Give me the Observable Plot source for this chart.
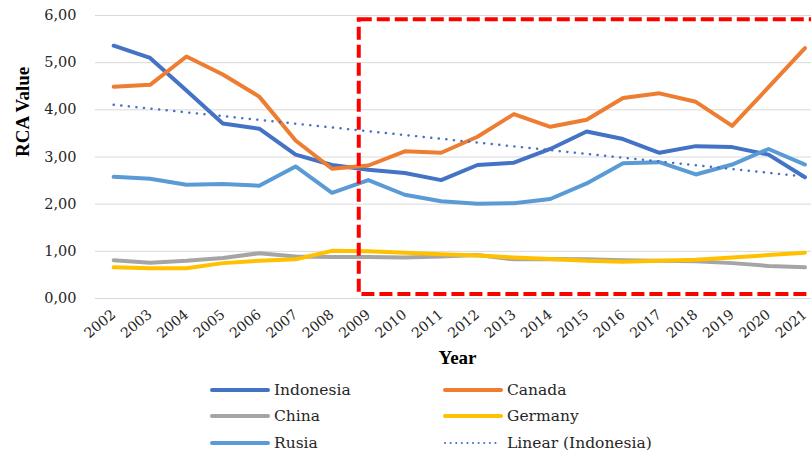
<!DOCTYPE html>
<html><head><meta charset="utf-8">
<script src="https://cdn.jsdelivr.net/npm/d3@7"></script>
<script src="https://cdn.jsdelivr.net/npm/@observablehq/plot@0.6"></script>
</head><body style="margin:0;background:#fff;font-family:'DejaVu Serif'">
<div id="chart"></div><div id="legend" style="position:relative;width:811px;height:82px;font-family:'DejaVu Serif'"></div>
<script>
const years = [2002,2003,2004,2005,2006,2007,2008,2009,2010,2011,2012,2013,2014,2015,2016,2017,2018,2019,2020,2021];
const indonesia = [5.36,5.10,4.41,3.71,3.60,3.05,2.83,2.73,2.66,2.51,2.83,2.88,3.17,3.54,3.38,3.09,3.23,3.21,3.05,2.57];
const canada    = [4.49,4.53,5.13,4.75,4.28,3.35,2.75,2.82,3.12,3.09,3.43,3.91,3.64,3.79,4.25,4.35,4.17,3.66,4.48,5.31];
const china     = [0.81,0.76,0.80,0.86,0.96,0.89,0.88,0.88,0.87,0.89,0.92,0.83,0.84,0.83,0.81,0.80,0.79,0.75,0.69,0.66];
const germany   = [0.66,0.64,0.64,0.75,0.80,0.83,1.01,1.00,0.97,0.94,0.91,0.87,0.84,0.80,0.78,0.80,0.82,0.87,0.92,0.97];
const rusia     = [2.58,2.54,2.41,2.43,2.39,2.80,2.24,2.51,2.20,2.06,2.01,2.02,2.11,2.44,2.87,2.89,2.63,2.84,3.17,2.84];
const yTicks = [0,1,2,3,4,5,6];
const highlight = [{x1:2008.75, x2:2023, y1:0.085, y2:5.91}];

const FONT = "DejaVu Serif";
const BOLDFONT = "Liberation Serif";
const seriesDefs = [
  {name:"Indonesia", values:indonesia, color:"#4472C4"},
  {name:"Canada", values:canada, color:"#ED7D31"},
  {name:"China", values:china, color:"#A5A5A5"},
  {name:"Germany", values:germany, color:"#FFC000"},
  {name:"Rusia", values:rusia, color:"#5B9BD5"}
];
const toRows = s => years.map((y,i)=>({year:y, value:s.values[i]}));

const marks = [
  Plot.gridY(yTicks, {stroke:"#d9d9d9", strokeOpacity:1, strokeWidth:1}),
  Plot.axisY(yTicks, {tickSize:0, tickPadding:19, fontSize:14.5, fontFamily:FONT, tickFormat:d=>d.toFixed(2).replace(".",","), label:null}),
  Plot.axisX(years, {tickSize:0, tickPadding:14, tickRotate:-40, fontSize:14, fontFamily:FONT, tickFormat:d=>String(d), label:null, dx:0}),
  ...seriesDefs.map(s => Plot.line(toRows(s), {x:"year", y:"value", stroke:s.color, strokeWidth:4, strokeLinejoin:"round", strokeLinecap:"round"})),
  Plot.linearRegressionY(toRows(seriesDefs[0]), {x:"year", y:"value", stroke:"#4472C4", strokeWidth:2.5, strokeDasharray:"0.1,7.5", strokeLinecap:"round", ci:0}),
  Plot.rect(highlight, {x1:"x1", x2:"x2", y1:"y1", y2:"y2", fill:"none", stroke:"#FF0000", strokeWidth:4, strokeDasharray:"13,5", clip:"frame"}),
  Plot.text(["RCA Value"], {frameAnchor:"left", dx:-73, rotate:-90, fontWeight:"bold", fontSize:19, fontFamily:BOLDFONT, fill:"#000"}),
  Plot.text(["Year"], {frameAnchor:"bottom", dy:65, dx:4, fontWeight:"bold", fontSize:19, fontFamily:BOLDFONT, fill:"#000"})
];

const chart = Plot.plot({
  width:811, height:372,
  marginLeft:95, marginRight:0, marginTop:15, marginBottom:74,
  style:{fontFamily:FONT, color:"#262626", background:"#fff", overflow:"visible"},
  x:{type:"linear", domain:[2001.5, 2021.18]},
  y:{domain:[0,6]},
  marks
});
document.getElementById("chart").appendChild(chart);

const legendItems = [
  {name:"Indonesia", color:"#4472C4", col:0, row:0},
  {name:"Canada", color:"#ED7D31", col:1, row:0},
  {name:"China", color:"#A5A5A5", col:0, row:1},
  {name:"Germany", color:"#FFC000", col:1, row:1},
  {name:"Rusia", color:"#5B9BD5", col:0, row:2},
  {name:"Linear (Indonesia)", color:"#4472C4", col:1, row:2, dotted:true}
];
const colX = [210, 443], rowY = [18, 44, 71];
const leg = document.getElementById("legend");
legendItems.forEach(it=>{
  const d = document.createElement("div");
  d.setAttribute("style", `position:absolute;display:flex;align-items:center;font-size:15.5px;color:#262626;height:22px;transform:translateY(-50%);left:${colX[it.col]}px;top:${rowY[it.row]}px;font-family:'DejaVu Serif'`);
  const dash = it.dotted ? `stroke-width="2" stroke-dasharray="0.1,5.5"` : `stroke-width="4"`;
  d.innerHTML = `<svg width="60" height="8" style="margin-right:4px"><line x1="2" x2="58" y1="4" y2="4" stroke="${it.color}" ${dash} stroke-linecap="round"/></svg><span>${it.name}</span>`;
  leg.appendChild(d);
});
</script>
</body></html>
